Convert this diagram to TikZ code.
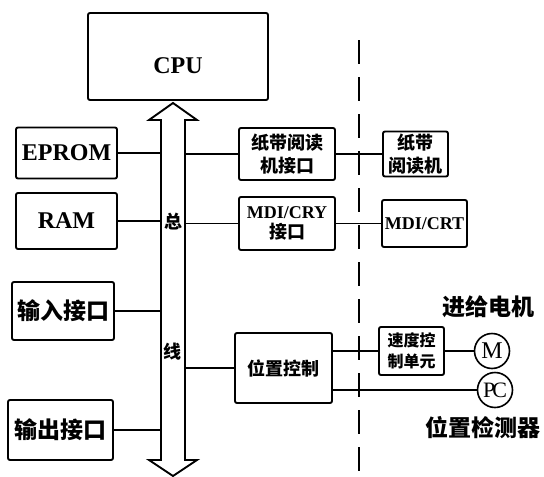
\documentclass[tikz,border=0pt]{standalone}
\usepackage{fontspec}
\setmainfont{Liberation Serif}
\newfontfamily\cjk{Noto Sans CJK SC}
\begin{document}
\begin{tikzpicture}[x=1pt,y=-1pt,
  box/.style={draw,line width=1.9pt,rounded corners=2pt,inner sep=0pt,align=center},
  lat/.style={font=\fontsize{24}{26}\selectfont\bfseries},
  latm/.style={font=\fontsize{18}{20}\selectfont\bfseries},
  zh/.style={font=\fontsize{23}{25}\selectfont\cjk\bfseries},
  zhm/.style={font=\fontsize{18}{23}\selectfont\cjk\bfseries},
  zhs/.style={font=\fontsize{16}{21}\selectfont\cjk\bfseries},
  conn/.style={line width=1.8pt},
  circ/.style={draw,circle,line width=1.6pt,inner sep=0pt,minimum size=35pt}]
\useasboundingbox (0,0) rectangle (544,477);
% CPU
\node[box,minimum width=180pt,minimum height=87pt] (cpu) at (178,56.5) {};
\node[lat] (cputext) at (178,66) {CPU};
% bus
\draw[line width=1.9pt,fill=white,line join=miter] (173,103) -- (197,120) -- (185,120) -- (185,460) -- (197,460) -- (173,476) -- (149,460) -- (161,460) -- (161,120) -- (149,120) -- cycle;
\coordinate (busL) at (161,300);
\coordinate (busR) at (185,300);
\node[font=\fontsize{18}{20}\selectfont\cjk\bfseries] (zong) at (173,222) {总};
\node[font=\fontsize{18}{20}\selectfont\cjk\bfseries] (xian) at (172,352) {线};
% left boxes
\node[box,lat,minimum width=101pt,minimum height=51pt] (eprom) at (66.5,153) {EPROM};
\node[box,lat,minimum width=101pt,minimum height=56pt] (ram) at (66.5,221) {RAM};
\node[box,zh,minimum width=102pt,minimum height=58pt] (inp) at (63,311) {输入接口};
\node[box,zh,minimum width=105pt,minimum height=60pt] (outp) at (60.5,430) {输出接口};
% right boxes
\node[box,zhm,minimum width=96pt,minimum height=52pt] (tapeif) at (287,154) {纸带阅读\\机接口};
\node[box,minimum width=96pt,minimum height=53pt] (mdiif) at (287,223.5) {{\fontsize{18}{20}\selectfont\bfseries MDI/CRY}\\[3pt]{\fontsize{18}{20}\selectfont\cjk\bfseries 接口}};
\node[box,zhm,minimum width=65pt,minimum height=45pt] (tape) at (415.5,154) {纸带\\阅读机};
\node[box,latm,minimum width=85pt,minimum height=47pt] (mdi) at (424.5,223.5) {MDI/CRT};
\node[box,zhm,minimum width=97pt,minimum height=70pt] (pos) at (283.5,368) {位置控制};
\node[box,zhs,minimum width=65pt,minimum height=48pt] (speed) at (411.5,351) {速度控\\制单元};
\node[circ,font=\fontsize{24}{26}\selectfont] (m) at (492,351) {M};
\node[circ,font=\fontsize{22}{24}\selectfont] (pc) at (495,390) {\kern-1pt P\kern-3pt C\kern-1pt};
\node[zh] (feed) at (488,307) {进给电机};
\node[zh] (det) at (483,428) {位置检测器};
% dashed boundary
\draw[line width=1.8pt,dash pattern=on 24pt off 13pt] (359,40) -- (359,477);
% connectors
\draw[conn] (eprom.east) -- (eprom.east -| busL);
\draw[conn] (ram.east) -- (ram.east -| busL);
\draw[conn] (inp.east) -- (inp.east -| busL);
\draw[conn] (outp.east) -- (outp.east -| busL);
\draw[conn] (tapeif.west -| busR) -- (tapeif.west);
\draw[conn] (mdiif.west -| busR) -- (mdiif.west);
\draw[conn] (pos.west -| busR) -- (pos.west);
\draw[conn] (tapeif.east) -- (tape.west);
\draw[conn] (mdiif.east) -- (mdi.west);
\draw[conn] (speed.west -| pos.east) -- (speed.west);
\draw[conn] (speed.east) -- (m.west);
\draw[conn] (pc.west -| pos.east) -- (pc.west);
\end{tikzpicture}
\end{document}
